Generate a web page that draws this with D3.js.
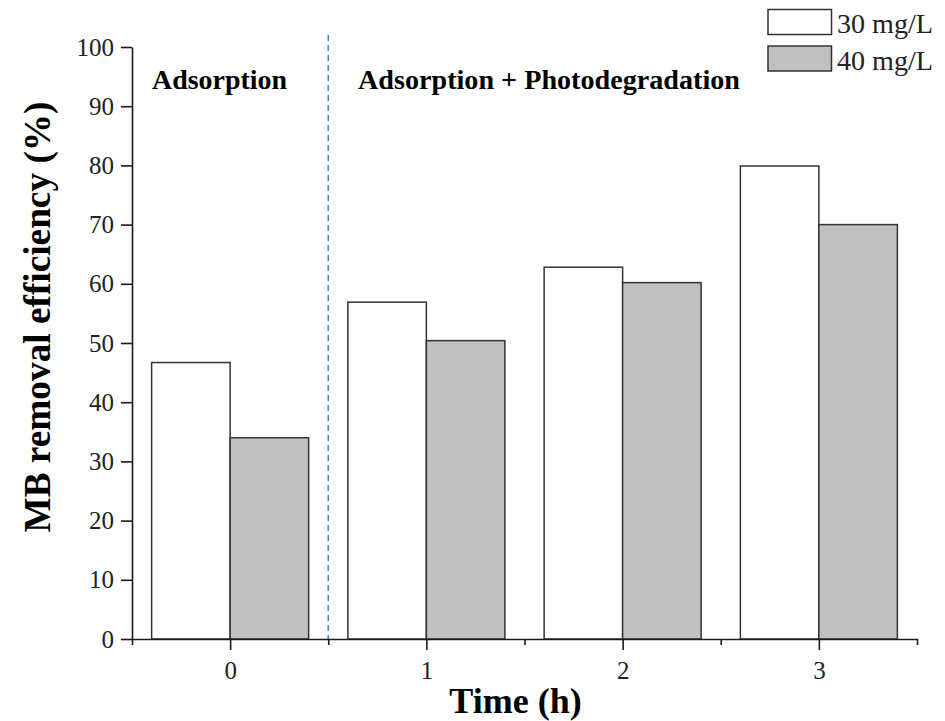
<!DOCTYPE html>
<html>
<head>
<meta charset="utf-8">
<script src="https://cdn.jsdelivr.net/npm/d3@7"></script>
<style>
  html, body { margin: 0; padding: 0; background: #fff; }
  svg { display: block; font-family: "Liberation Serif", "Times New Roman", serif; }
</style>
</head>
<body>
<svg id="chart" width="945" height="721"></svg>
<script>
// Time points (h) and removal efficiency (%) for the two MB concentrations
const times = [0, 1, 2, 3];
const series = ["30 mg/L", "40 mg/L"];
const values30 = [46.7, 56.9, 62.8, 79.9];
const values40 = [34.0, 50.4, 60.2, 70.0];
const yTicks = [0, 10, 20, 30, 40, 50, 60, 70, 80, 90, 100];
const minorXTicks = [-0.5, 0.5, 1.5, 2.5, 3.5];
const fills = ["#ffffff", "#c0c0c0"];

const svg = d3.select("#chart");
const x = d3.scaleLinear().domain([-0.5, 3.5]).range([132, 917]);
const y = d3.scaleLinear().domain([0, 100]).range([639, 47]);
const barW = 0.4; // in time units

// bars
const rows = times.map((t, i) => ({ t, v: [values30[i], values40[i]] }));
const g = svg.append("g");
rows.forEach(r => {
  r.v.forEach((v, k) => {
    const x0 = k === 0 ? r.t - barW : r.t;
    g.append("rect")
      .attr("x", x(x0))
      .attr("y", y(v))
      .attr("width", x(x0 + barW) - x(x0))
      .attr("height", y(0) - y(v))
      .attr("fill", fills[k])
      .attr("stroke", "#333")
      .attr("stroke-width", 1.5);
  });
});

// separator between adsorption phase and irradiation phase
svg.append("line")
  .attr("x1", x(0.5)).attr("x2", x(0.5))
  .attr("y1", 35).attr("y2", y(0))
  .attr("stroke", "#4f86c6")
  .attr("stroke-width", 1.6)
  .attr("stroke-dasharray", "6,4");

// y axis
const yAxis = svg.append("g")
  .attr("transform", `translate(${x(-0.5)},0)`)
  .call(d3.axisLeft(y).tickValues(yTicks).tickSize(11).tickPadding(7).tickSizeOuter(0));
yAxis.selectAll("text").attr("font-size", 25).attr("fill", "#222")
  .attr("font-family", "Liberation Serif, serif");

// x axis (major ticks)
const xAxis = svg.append("g")
  .attr("transform", `translate(0,${y(0)})`)
  .call(d3.axisBottom(x).tickValues(times).tickFormat(d3.format("d")).tickSize(11).tickPadding(11).tickSizeOuter(0));
xAxis.selectAll("text").attr("font-size", 25).attr("fill", "#222")
  .attr("font-family", "Liberation Serif, serif");

// x axis minor ticks
svg.append("g")
  .attr("transform", `translate(0,${y(0)})`)
  .call(d3.axisBottom(x).tickValues(minorXTicks).tickSize(6).tickFormat(""))
  .call(a => a.select(".domain").remove());

svg.selectAll(".domain, .tick line").attr("stroke", "#1a1a1a").attr("stroke-width", 1.6);

// phase annotations
svg.append("text").attr("x", 152).attr("y", 89)
  .attr("font-size", 27).attr("font-weight", "bold")
  .attr("textLength", 135).attr("lengthAdjust", "spacingAndGlyphs")
  .text("Adsorption");
svg.append("text").attr("x", 358).attr("y", 89)
  .attr("font-size", 27).attr("font-weight", "bold")
  .attr("textLength", 382).attr("lengthAdjust", "spacingAndGlyphs")
  .text("Adsorption + Photodegradation");

// axis titles
svg.append("text").attr("x", 515.5).attr("y", 713)
  .attr("text-anchor", "middle").attr("font-size", 36).attr("font-weight", "bold")
  .text("Time (h)");
svg.append("text")
  .attr("transform", "translate(50,317) rotate(-90)")
  .attr("text-anchor", "middle").attr("font-size", 37).attr("font-weight", "bold")
  .attr("textLength", 431).attr("lengthAdjust", "spacingAndGlyphs")
  .text("MB removal efficiency (%)");

// legend
const legendTop = [9.5, 46];
series.forEach((s, k) => {
  svg.append("rect")
    .attr("x", 768).attr("y", legendTop[k])
    .attr("width", 63.5).attr("height", 25)
    .attr("fill", fills[k]).attr("stroke", "#333").attr("stroke-width", 1.5);
  svg.append("text")
    .attr("x", 837).attr("y", legendTop[k] + 23.5)
    .attr("font-size", 27).attr("fill", "#222")
    .attr("textLength", 96).attr("lengthAdjust", "spacingAndGlyphs")
    .text(s);
});
</script>
</body>
</html>
